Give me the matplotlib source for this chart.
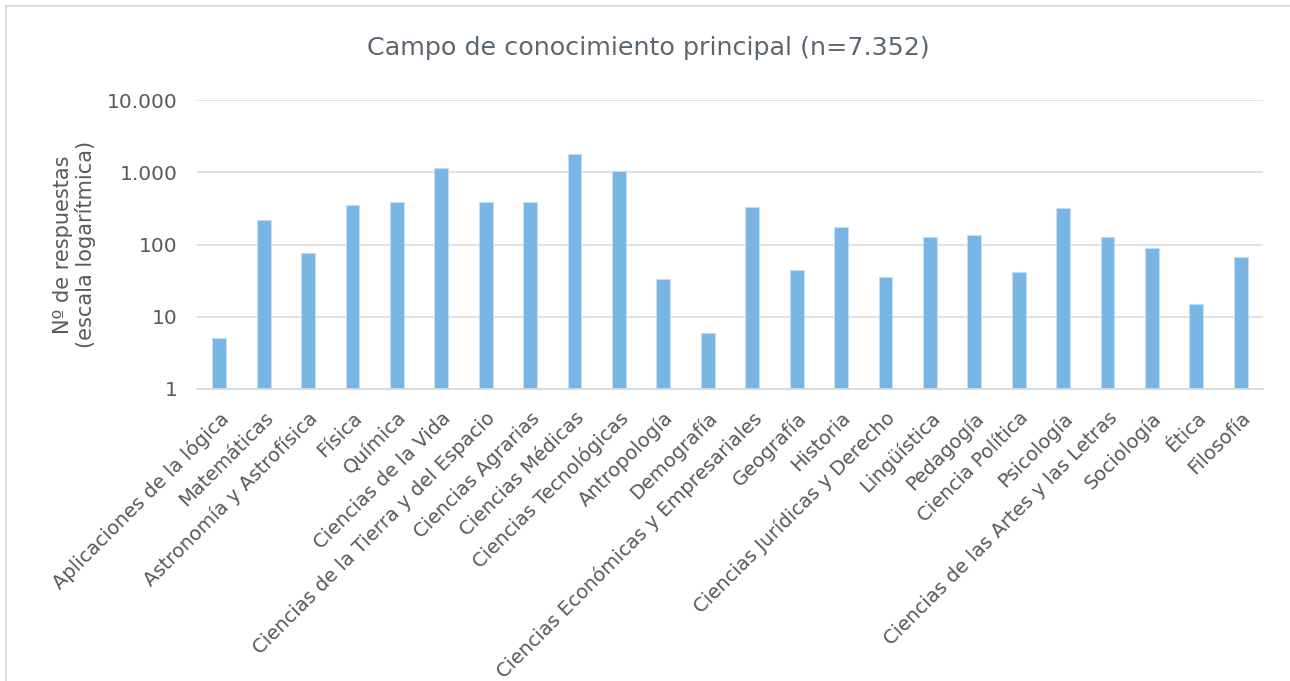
import matplotlib
matplotlib.use("Agg")
import matplotlib.pyplot as plt
from matplotlib.patches import Rectangle
from matplotlib.ticker import FuncFormatter, FixedLocator, NullLocator

categories = [
    "Aplicaciones de la lógica", "Matemáticas", "Astronomía y Astrofísica", "Física",
    "Química", "Ciencias de la Vida", "Ciencias de la Tierra y del Espacio",
    "Ciencias Agrarias", "Ciencias Médicas", "Ciencias Tecnológicas", "Antropología",
    "Demografía", "Ciencias Económicas y Empresariales", "Geografía", "Historia",
    "Ciencias Jurídicas y Derecho", "Lingüística", "Pedagogía", "Ciencia Política",
    "Psicología", "Ciencias de las Artes y las Letras", "Sociología", "Ética", "Filosofía",
]
values = [5, 215, 76, 347, 382, 1151, 382, 385, 1782, 1036, 33, 6, 332, 44, 174,
          36, 125, 137, 42, 321, 127, 89, 15, 67]
y_ticks = [1, 10, 100, 1000, 10000]

title = "Campo de conocimiento principal (n=7.352)"
ylabel = "Nº de respuestas\n(escala logarítmica)"

plt.rcParams['font.family'] = ['DejaVu Sans']
text_color = "#595959"
grid_color = "#D9D9D9"
bar_color = "#79B5E3"

fig = plt.figure(figsize=(12.9, 6.81), dpi=100)
ax = fig.add_axes([197/1290, 1 - 389/681, (1263-197)/1290, (389-100)/681])

x = list(range(len(categories)))
ax.bar(x, values, width=0.31, color=bar_color, edgecolor="#C3DDF3", linewidth=0.8, zorder=3)

ax.set_yscale('log')
ax.set_ylim(1, 10000)
ax.set_xlim(-0.5, len(categories) - 0.5)
ax.yaxis.set_major_locator(FixedLocator(y_ticks))
ax.yaxis.set_minor_locator(NullLocator())
ax.yaxis.set_major_formatter(FuncFormatter(lambda v, p: f"{int(round(v)):,}".replace(",", ".")))
ax.grid(axis='y', color=grid_color, linewidth=1.1, zorder=0)
for s in ['top', 'right', 'left']:
    ax.spines[s].set_visible(False)
ax.spines['bottom'].set_color(grid_color)
ax.spines['bottom'].set_linewidth(1.3)
ax.spines['bottom'].set_zorder(4)

ax.tick_params(axis='y', length=0, pad=14, labelsize=14.5, labelcolor=text_color)
ax.tick_params(axis='x', length=0, pad=14, labelsize=14, labelcolor=text_color)
ax.set_xticks(x)
ax.set_xticklabels(categories, rotation=45, ha='right', va='top', rotation_mode='anchor')

ax.set_ylabel(ylabel, fontsize=15, color=text_color, multialignment='center', linespacing=1.1)
ax.yaxis.set_label_coords(-101/1066, 0.5)

fig.text(648/1290, 1 - 48/681, title, ha='center', va='center', fontsize=18.3, color="#5B6670")

fig.add_artist(Rectangle((6/1290, -0.1), 2, (681-6)/681 + 0.1, transform=fig.transFigure,
                         fill=False, edgecolor=grid_color, linewidth=1.3, clip_on=False))

fig.savefig("out.png", dpi=100, facecolor="white")
